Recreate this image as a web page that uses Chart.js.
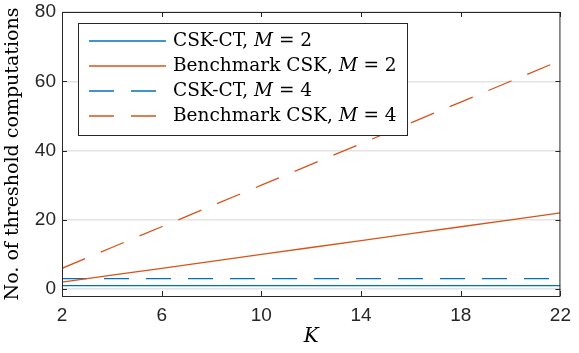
<!DOCTYPE html>
<html>
<head>
<meta charset="utf-8">
<script src="https://cdn.jsdelivr.net/npm/chart.js@4.4.1/dist/chart.umd.min.js"></script>
<style>
  html, body { margin: 0; padding: 0; background: #fff; }
  #wrap { width: 579px; height: 353px; }
</style>
</head>
<body>
<div id="wrap"><canvas id="chart" width="579" height="353"></canvas></div>
<script>
// DATA
const kValues = [2, 4, 6, 8, 10, 12, 14, 16, 18, 20, 22];
const cskCtM2 = [1, 1, 1, 1, 1, 1, 1, 1, 1, 1, 1];
const benchmarkM2 = [2, 4, 6, 8, 10, 12, 14, 16, 18, 20, 22];
const cskCtM4 = [3, 3, 3, 3, 3, 3, 3, 3, 3, 3, 3];
const benchmarkM4 = [6, 12, 18, 24, 30, 36, 42, 48, 54, 60, 66];
const xTicks = [2, 6, 10, 14, 18, 22];
const yTicks = [0, 20, 40, 60, 80];

const BLUE = "#0072BD";
const ORANGE = "#D95319";
const AXIS = "#262626";
const SERIF = "'DejaVu Serif', 'Liberation Serif', serif";
const SANS = "'Liberation Sans', Arial, sans-serif";

const toPoints = (ys) => kValues.map((k, i) => ({ x: k, y: ys[i] }));

// legend entries: [color, dashed, roman text, italic, tail]
const legendItems = [
  [BLUE, false, "CSK-CT, ", "M", " = 2"],
  [ORANGE, false, "Benchmark CSK, ", "M", " = 2"],
  [BLUE, true, "CSK-CT, ", "M", " = 4"],
  [ORANGE, true, "Benchmark CSK, ", "M", " = 4"],
];

// box, inward ticks and legend, drawn after the lines
const frameAndLegend = {
  id: "frameAndLegend",
  afterDatasetsDraw(chart) {
    const { ctx, chartArea: a, scales } = chart;
    ctx.save();
    ctx.strokeStyle = AXIS;
    ctx.lineWidth = 1;
    ctx.strokeRect(a.left + 0.5, a.top + 0.5, a.right - a.left - 1, a.bottom - a.top);

    // ticks pointing inside
    ctx.beginPath();
    xTicks.forEach((t) => {
      const px = Math.round(scales.x.getPixelForValue(t)) + 0.5;
      ctx.moveTo(px, a.bottom);
      ctx.lineTo(px, a.bottom - 5);
      ctx.moveTo(px, a.top);
      ctx.lineTo(px, a.top + 5);
    });
    yTicks.forEach((t) => {
      const py = Math.round(scales.y.getPixelForValue(t)) + 0.5;
      ctx.moveTo(a.left, py);
      ctx.lineTo(a.left + 5, py);
      ctx.moveTo(a.right, py);
      ctx.lineTo(a.right - 5, py);
    });
    ctx.stroke();

    // LEGEND
    const bx = a.left + 16, by = a.top + 11, bw = 329, bh = 112;
    ctx.fillStyle = "#fff";
    ctx.fillRect(bx, by, bw, bh);
    ctx.strokeStyle = AXIS;
    ctx.strokeRect(bx + 0.5, by + 0.5, bw, bh);

    legendItems.forEach((item, i) => {
      const [color, dashed, text, ital, tail] = item;
      const y = by + 18 + i * 25;
      ctx.strokeStyle = color;
      ctx.lineWidth = 1.3;
      ctx.setLineDash(dashed ? [25, 17] : []);
      ctx.beginPath();
      ctx.moveTo(bx + 11, y);
      ctx.lineTo(bx + 88, y);
      ctx.stroke();
      ctx.setLineDash([]);

      ctx.fillStyle = "#000";
      ctx.textBaseline = "middle";
      let x = bx + 95;
      ctx.font = "18.5px " + SERIF;
      ctx.fillText(text, x, y);
      x += ctx.measureText(text).width;
      ctx.font = "italic 18.5px " + SERIF;
      ctx.fillText(ital, x, y);
      x += ctx.measureText(ital).width;
      ctx.font = "18.5px " + SERIF;
      ctx.fillText(tail, x, y);
    });
    ctx.restore();
  },
};

const lineStyle = (label, data, color, dashed) => ({
  label: label,
  data: toPoints(data),
  borderColor: color,
  backgroundColor: color,
  borderWidth: 1.3,
  borderDash: dashed ? [25, 17] : [],
  pointRadius: 0,
  tension: 0,
  fill: false,
});

new Chart(document.getElementById("chart"), {
  type: "line",
  data: {
    datasets: [
      lineStyle("CSK-CT, M = 2", cskCtM2, BLUE, false),
      lineStyle("Benchmark CSK, M = 2", benchmarkM2, ORANGE, false),
      lineStyle("CSK-CT, M = 4", cskCtM4, BLUE, true),
      lineStyle("Benchmark CSK, M = 4", benchmarkM4, ORANGE, true),
    ],
  },
  options: {
    responsive: false,
    animation: false,
    layout: { padding: { left: 0, right: 13, top: 12, bottom: 0 } },
    plugins: {
      legend: { display: false },
      tooltip: { enabled: false },
    },
    scales: {
      x: {
        type: "linear",
        min: 2,
        max: 22,
        afterBuildTicks: (s) => { s.ticks = xTicks.map((v) => ({ value: v })); },
        afterFit: (s) => { s.height = 57; },
        grid: { drawOnChartArea: false, drawTicks: false },
        border: { display: false },
        ticks: {
          color: AXIS,
          padding: 8,
          maxRotation: 0,
          font: { family: SANS, size: 19 },
        },
        title: {
          display: true,
          text: "K",
          color: "#000",
          padding: { top: 0, bottom: 4 },
          font: { family: SERIF, size: 20, style: "italic" },
        },
      },
      y: {
        min: -2,
        max: 80,
        afterBuildTicks: (s) => { s.ticks = yTicks.map((v) => ({ value: v })); },
        afterFit: (s) => {
          s.width = 62;
          s.paddingTop = 0;
          s.paddingBottom = 0;
        },
        grid: { color: "#e3e3e3", lineWidth: 1.5, drawTicks: false },
        border: { display: false },
        ticks: {
          color: AXIS,
          padding: 6,
          font: { family: SANS, size: 19 },
        },
        title: {
          display: true,
          text: "No. of threshold computations",
          color: "#000",
          padding: { top: 2, bottom: 0 },
          font: { family: SERIF, size: 19 },
        },
      },
    },
  },
  plugins: [frameAndLegend],
});
</script>
</body>
</html>
